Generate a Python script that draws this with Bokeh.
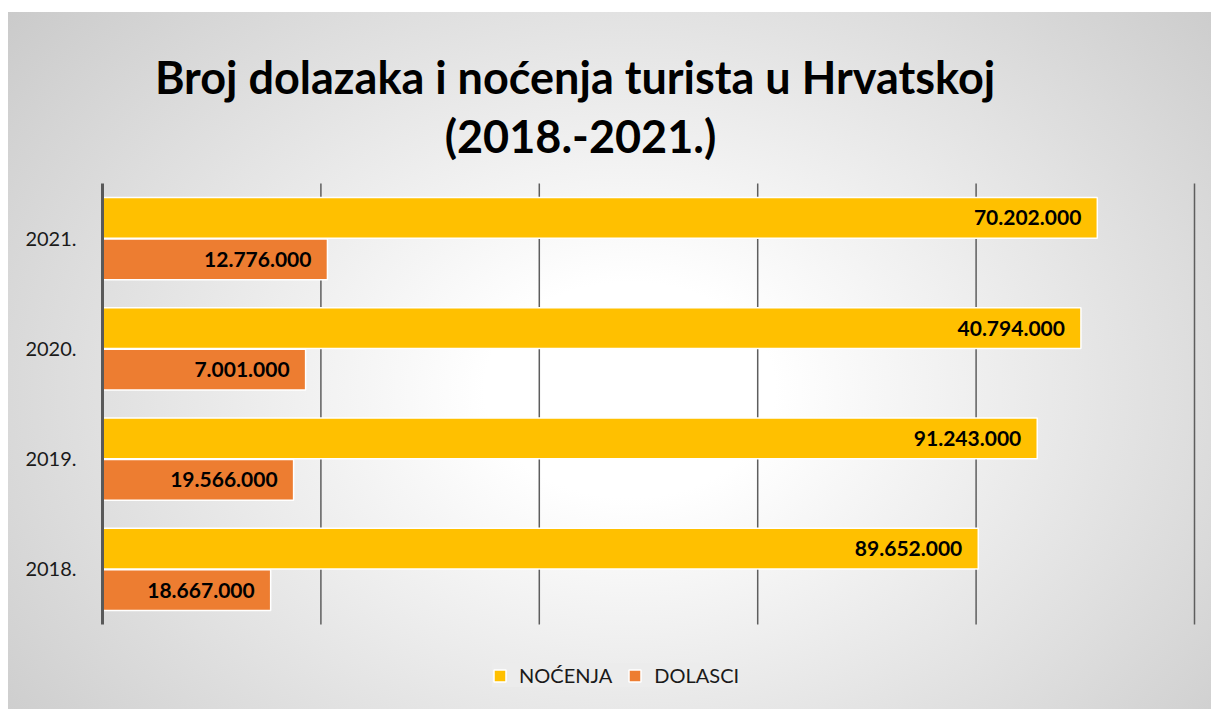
from bokeh.plotting import figure
from bokeh.models import (FixedTicker, Label, Legend, LegendItem,
                          ColumnDataSource, Range1d)
from bokeh.transform import dodge
from bokeh.embed import file_html
from bokeh.resources import INLINE
from bokeh.core.properties import value

# ---- data ----
years = ["2018.", "2019.", "2020.", "2021."]
# bar lengths as drawn (axis units, grid lines every 20)
nocenja_bar = [80.2, 85.6, 89.6, 91.1]
dolasci_bar = [15.4, 17.5, 18.6, 20.6]
# data labels printed on the bars
nocenja_labels = ["89.652.000", "91.243.000", "40.794.000", "70.202.000"]
dolasci_labels = ["18.667.000", "19.566.000", "7.001.000", "12.776.000"]
series_names = ["NOĆENJA", "DOLASCI"]
grid_ticks = [20, 40, 60, 80, 100]
title_line1 = "Broj dolazaka i noćenja  turista u Hrvatskoj"
title_line2 = "(2018.-2021.)"

FONT = "Lato"
C_NOC = "#FFC000"
C_DOL = "#ED7D31"

# ---- layout constants (pixels) ----
W, H = 1211, 709
LEFT = 102            # frame left (value axis 0)
PX_X = 10.92          # pixels per x unit
CAT_TOP, CAT_BOTTOM = 183, 624   # extent of the category axis
PX_Y = (CAT_BOTTOM - CAT_TOP) / len(years)

def ydata(py):
    """page pixel row -> y data value"""
    return (CAT_BOTTOM - py) / PX_Y

def xdata(px):
    return (px - LEFT) / PX_X

ncat = len(years)
ypos = [i + 0.5 for i in range(ncat)]

src = ColumnDataSource(dict(y=ypos, noc=nocenja_bar, dol=dolasci_bar,
                            noc_lab=nocenja_labels, dol_lab=dolasci_labels))

p = figure(width=W, height=H,
           x_range=Range1d(0, xdata(W)), y_range=Range1d(ydata(H), ydata(0)),
           output_backend="svg", toolbar_location=None,
           x_axis_location=None,
           min_border_left=LEFT, min_border_right=0,
           min_border_top=0, min_border_bottom=0)

p.background_fill_alpha = 0
p.border_fill_alpha = 0
p.outline_line_color = None
p.styles = {
    "background": "linear-gradient(#ffffff, #ffffff) 0 0 / 100% 12px no-repeat, "
                  "linear-gradient(#ffffff, #ffffff) 0 0 / 8px 100% no-repeat, "
                  "linear-gradient(#bdbdbd, #bdbdbd) 0 11px / 100% 1px no-repeat, "
                  "radial-gradient(ellipse 75% 95% at 52% 55%, #ffffff 0%, #ffffff 16%, #c2c2c2 100%)",
}

p.xgrid.visible = False
p.ygrid.visible = False

# value grid lines, spanning only the category extent
p.segment(x0=grid_ticks, x1=grid_ticks, y0=[0] * len(grid_ticks),
          y1=[ncat] * len(grid_ticks), line_color="#5e5e5e", line_width=1.5)

# y axis (category labels)
ax = p.yaxis[0]
ax.ticker = FixedTicker(ticks=ypos)
ax.major_label_overrides = {yv: lab for yv, lab in zip(ypos, years)}
ax.bounds = (0, ncat)
ax.axis_line_color = "#595959"
ax.axis_line_width = 3
ax.major_tick_line_color = None
ax.minor_tick_line_color = None
ax.major_label_text_font = FONT
ax.major_label_text_font_size = "20px"
ax.major_label_text_color = "#1a1a1a"
ax.major_label_standoff = 20

r_noc = p.hbar(y=dodge("y", 0.1875), right="noc", left=0,
               height=0.37, source=src, fill_color=C_NOC,
               line_color="white", line_width=1.5)
r_dol = p.hbar(y=dodge("y", -0.1875), right="dol", left=0,
               height=0.37, source=src, fill_color=C_DOL,
               line_color="white", line_width=1.5)

for col, lab, off in (("noc", "noc_lab", 0.1875), ("dol", "dol_lab", -0.1875)):
    p.text(x=col, y=dodge("y", off), text=lab, source=src,
           x_offset=-16, text_align="right", text_baseline="middle",
           text_font=value(FONT), text_font_style="bold",
           text_font_size="21px", text_color="#000000")

# title (two centred lines)
for txt, base in ((title_line1, 76.5), (title_line2, 135)):
    p.add_layout(Label(x=xdata(580), y=ydata(base),
                       text=txt, text_align="center", text_baseline="alphabetic",
                       text_font=FONT, text_font_style="bold",
                       text_font_size="45px", text_color="#000000"))

legend = Legend(items=[LegendItem(label=series_names[0], renderers=[r_noc]),
                       LegendItem(label=series_names[1], renderers=[r_dol])],
                orientation="horizontal", location=(492 - LEFT, H - 697 + 10))
legend.background_fill_color = "#ececec"
legend.background_fill_alpha = 1
legend.border_line_color = None
legend.label_text_font = FONT
legend.label_text_font_size = "20px"
legend.label_text_color = "#1a1a1a"
legend.glyph_width = 15
legend.glyph_height = 15
legend.label_standoff = 12
legend.spacing = 15
legend.padding = 10
legend.margin = 0
p.add_layout(legend, "center")

open("out.html", "w").write(file_html(p, INLINE))
